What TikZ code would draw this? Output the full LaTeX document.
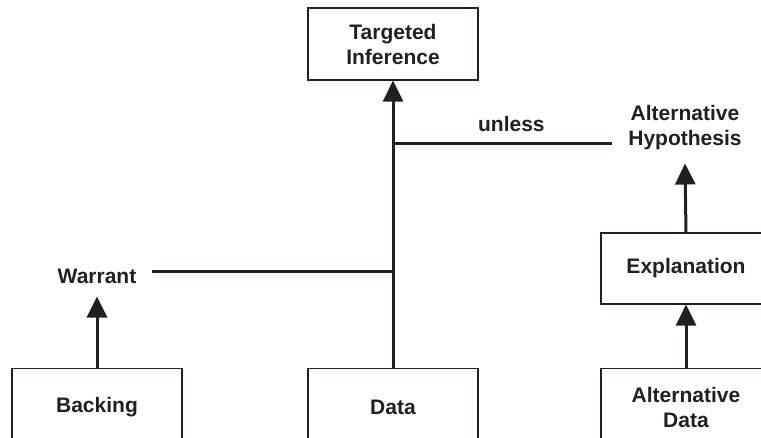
\documentclass[tikz,border=0pt]{standalone}
\usepackage{fontspec}
\setmainfont{Liberation Sans}
\usepackage{xcolor}
\usetikzlibrary{arrows.meta}
\definecolor{ink}{RGB}{35,31,32}

\tikzset{
    box/.style={draw=ink, line width=1.2pt, minimum width=170pt, minimum height=72pt, align=center},
    lbl/.style={align=center, inner xsep=16pt, inner ysep=13pt},
    link/.style={draw=ink, line width=3pt},
    up/.style={link, -{Triangle[width=20pt, length=21pt]}}
}

\begin{document}
\begin{tikzpicture}[x=1pt, y=-1pt, text=ink, font=\fontsize{21pt}{25pt}\selectfont\bfseries]
            \useasboundingbox (0, 0) rectangle (761, 438);
            \clip (0, 0) rectangle (761, 438);

            \node[box] (target) at (393, 44) {Targeted\\Inference};
            \node[lbl] (althyp) at (685, 128) {Alternative\\Hypothesis};
            \node[box, minimum height=71pt] (expl) at (686, 268.5) {Explanation};
            \node[lbl] (warrant) at (97, 276) {Warrant};

            % bottom row, cut by the lower edge
            \node[box, anchor=north, minimum height=78pt] (backing) at (97, 368) {Backing};
            \node[box, anchor=north, minimum height=78pt] (data) at (393, 368) {Data};
            \node[box, anchor=north, minimum height=78pt] (altdata) at (686, 368) {Alternative\\Data};

            \coordinate (jw) at (393, 272);
            \coordinate (ju) at (393, 144);

            \draw[up](data.north)--(target.south);
            \draw[link](jw)--(jw -| warrant.east);
            \draw[link](ju)--(ju -| althyp.west)node[pos=0.54, yshift=20pt]{unless};

            \draw[up](backing.north)--(warrant.south);
            \draw[up](altdata.north)--(expl.south);
            \draw[up](expl.north)--(althyp.south);

        \end{tikzpicture}
\end{document}
